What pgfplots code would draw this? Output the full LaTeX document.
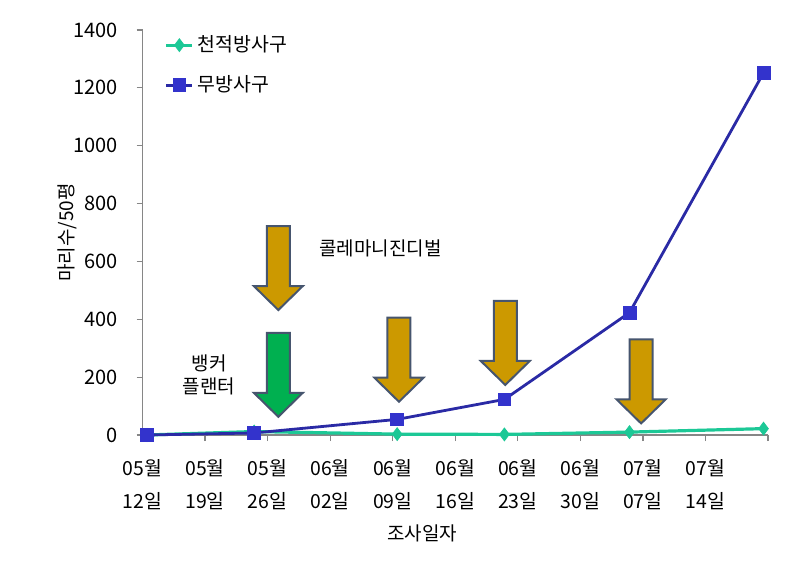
\documentclass[border=0pt]{standalone}
\usepackage{fontspec}
\setmainfont{Noto Sans CJK KR}
\usepackage{pgfplots}
\pgfplotsset{compat=1.18}

\definecolor{tealline}{RGB}{28,200,150}
\definecolor{blueline}{RGB}{42,42,165}
\definecolor{bluemark}{RGB}{51,51,204}
\definecolor{goldfill}{RGB}{204,153,0}
\definecolor{greenfill}{RGB}{0,176,80}
\definecolor{arrowedge}{RGB}{70,85,110}
\definecolor{axisgray}{RGB}{134,134,134}

% block arrow pointing down, tip at the given point
\newcommand{\downarrowat}[2]{%
  \draw[draw=arrowedge, line width=1pt, fill=#2, line join=miter]
    (#1) -- ++(-12.25pt,12pt) -- ++(6.5pt,0) -- ++(0,30pt) -- ++(11.5pt,0)
    -- ++(0,-30pt) -- ++(6.5pt,0) -- cycle;}

\begin{document}
\begin{tikzpicture}
\begin{axis}[
  scale only axis,
  width=312.75pt, height=202.5pt,
  xmin=0, xmax=70, ymin=0, ymax=1400,
  axis x line*=bottom, axis y line*=left,
  axis line style={draw=axisgray, line width=0.6pt},
  tick style={draw=axisgray, line width=0.6pt},
  major tick length=3pt,
  tick align=outside,
  xtick={0,7,...,70},
  xticklabels={{05월\\12일},{05월\\19일},{05월\\26일},{06월\\02일},{06월\\09일},
               {06월\\16일},{06월\\23일},{06월\\30일},{07월\\07일},{07월\\14일},{}},
  xticklabel style={align=center, font=\fontsize{9.7}{16.5}\selectfont, yshift=-5.5pt},
  ytick={0,200,...,1400},
  yticklabel style={font=\fontsize{10}{12}\selectfont, xshift=-6pt},
  /pgf/number format/assume math mode=true,
  /pgf/number format/1000 sep={},
  xlabel={조사일자},
  xlabel style={at={(axis description cs:0.4476,-0.242)}, anchor=center, font=\fontsize{9.5}{11}\selectfont},
  ylabel={마리수/50평},
  ylabel style={at={(axis description cs:-0.1207,0.5)}, anchor=center, font=\fontsize{9.5}{11}\selectfont},
  legend style={at={(axis description cs:0.035,0.997)}, anchor=north west,
    draw=none, fill=none, inner sep=0pt, row sep=6.5pt,
    font=\fontsize{9.7}{11.5}\selectfont},
  legend cell align=left,
  legend image code/.code={%
    \draw[mark repeat=2, mark phase=2] plot coordinates {(0pt,0pt) (6.5pt,0pt) (13pt,0pt)};},
  clip=false,
]
\addplot[color=tealline, line width=1.6pt, mark=diamond*, mark size=3.2pt,
  mark options={fill=tealline, draw=tealline, line width=0.4pt}]
  coordinates {(0.5,0) (12.5,12) (28.5,3) (40.5,2) (54.5,10) (69.5,22)};
\addlegendentry{천적방사구}
\addplot[color=blueline, line width=1.4pt, mark=square*, mark size=3.2pt,
  mark options={fill=bluemark, draw=bluemark, line width=0.4pt}]
  coordinates {(0.5,0) (12.5,7) (28.5,54) (40.5,123) (54.5,423) (69.5,1252)};
\addlegendentry{무방사구}

\downarrowat{axis cs:15.2,432}{goldfill}
\downarrowat{axis cs:15.2,63}{greenfill}
\downarrowat{axis cs:28.7,115}{goldfill}
\downarrowat{axis cs:40.6,173}{goldfill}
\downarrowat{axis cs:55.8,40}{goldfill}

\node[anchor=west, font=\fontsize{9.5}{11}\selectfont] at (axis cs:18.98,646) {콜레마니진디벌};
\node[align=center, font=\fontsize{9.5}{11.5}\selectfont] at (axis cs:7.45,209) {뱅커\\플랜터};

\coordinate (sw) at (rel axis cs:0,0);
\coordinate (ne) at (rel axis cs:1,1);
\end{axis}
\pgfresetboundingbox
\path ([xshift=-71.25pt,yshift=-65pt]sw) rectangle ([xshift=18.5pt,yshift=15pt]ne);
\end{tikzpicture}
\end{document}
